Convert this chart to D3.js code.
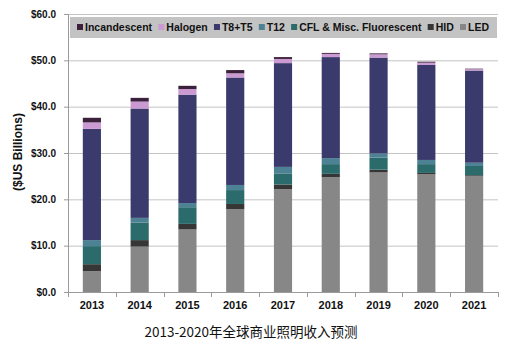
<!DOCTYPE html>
<html lang="zh">
<head>
<meta charset="UTF-8">
<title>chart</title>
<style>
  body { margin: 0; background: #fff; }
  .axis text { font-family: Arial, 'Liberation Sans', sans-serif; font-weight: bold; fill: #111; }
  .grid line { stroke: #c4c4c4; stroke-width: 1px; }
  .legendText { font-family: Arial, 'Liberation Sans', sans-serif; font-weight: bold; font-size: 10.5px; fill: #111; }
</style>
<script src="https://cdn.jsdelivr.net/npm/d3@7"></script>
</head>
<body>
<div class="container"></div>
<script>
  var years = ['2013','2014','2015','2016','2017','2018','2019','2020','2021'];
  // stacked from bottom to top
  var seriesNames = ['LED','HID','CFL & Misc. Fluorescent','T12','T8+T5','Halogen','Incandescent'];
  var led          = [4.5, 9.8, 13.5, 17.9, 22.2, 24.8, 25.8, 25.4, 25.0];
  var hid          = [1.5, 1.4, 1.2, 1.1, 1.0, 0.7, 0.6, 0.3, 0.2];
  var cfl          = [3.9, 3.8, 3.6, 3.0, 2.4, 2.1, 2.6, 1.9, 2.0];
  var t12          = [1.3, 1.0, 0.9, 1.1, 1.4, 1.3, 0.9, 0.9, 0.7];
  var t8t5         = [24.0, 23.6, 23.4, 23.2, 22.4, 21.8, 20.7, 20.5, 19.9];
  var halogen      = [1.4, 1.5, 1.2, 0.9, 0.9, 0.7, 0.7, 0.5, 0.3];
  var incandescent = [1.0, 0.8, 0.7, 0.7, 0.4, 0.2, 0.2, 0.2, 0.1];
  var yTicks = [0, 10, 20, 30, 40, 50, 60];
  var legendOrder = ['Incandescent','Halogen','T8+T5','T12','CFL & Misc. Fluorescent','HID','LED'];
  var caption = '2013-2020年全球商业照明收入预测';

  var colors = {
    'LED': '#878787',
    'HID': '#363636',
    'CFL & Misc. Fluorescent': '#2c6b6c',
    'T12': '#4d8294',
    'T8+T5': '#3b3a6c',
    'Halogen': '#cb9ad2',
    'Incandescent': '#3b213b'
  };

  var table = years.map(function(y, i) {
    return {
      year: y,
      'LED': led[i], 'HID': hid[i], 'CFL & Misc. Fluorescent': cfl[i], 'T12': t12[i],
      'T8+T5': t8t5[i], 'Halogen': halogen[i], 'Incandescent': incandescent[i]
    };
  });

  var svgWidth = 507, svgHeight = 351;
  var margin = {left: 68, right: 9, top: 14, bottom: 59};
  var width = svgWidth - margin.left - margin.right;
  var height = svgHeight - margin.top - margin.bottom;

  var svg = d3.select('.container').append('svg')
    .attr('width', svgWidth).attr('height', svgHeight);
  var g = svg.append('g').attr('transform', `translate(${margin.left},${margin.top})`);

  var x = d3.scaleBand().domain(years).range([0, width]).paddingInner(0.62).paddingOuter(0.31);
  var y = d3.scaleLinear().domain([0, 60]).range([height, 0]);

  // grid
  g.append('g').attr('class', 'grid')
    .selectAll('line').data(yTicks.slice(1)).enter().append('line')
    .attr('x1', 0).attr('x2', width)
    .attr('y1', d => y(d) + 0.5).attr('y2', d => y(d) + 0.5);

  var stack = d3.stack().keys(seriesNames)(table);
  g.append('g').selectAll('g').data(stack).enter().append('g')
    .attr('fill', d => colors[d.key])
    .selectAll('rect').data(d => d).enter().append('rect')
    .attr('x', d => x(d.data.year))
    .attr('width', x.bandwidth())
    .attr('y', d => y(d[1]))
    .attr('height', d => y(d[0]) - y(d[1]));

  // y axis
  var yAxis = g.append('g').attr('class', 'axis')
    .call(d3.axisLeft(y).tickValues(yTicks).tickSize(4).tickPadding(8).tickFormat(d => '$' + d3.format('.1f')(d)));
  yAxis.selectAll('path,line').attr('stroke', '#9a9a9a');
  yAxis.select('.domain').attr('d', `M-4,0.5H0.5V${height + 0.5}H-4`);
  yAxis.selectAll('text').style('font-size', '10px');

  // x axis with ticks between bars
  var xg = g.append('g').attr('class', 'axis').attr('transform', `translate(0,${height})`);
  xg.append('line').attr('x1', 0).attr('x2', width).attr('y1', 0.5).attr('y2', 0.5).attr('stroke', '#9a9a9a');
  var step = x.step();
  xg.selectAll('.tk').data(d3.range(years.length + 1)).enter().append('line')
    .attr('x1', i => Math.round(i * step) + 0.5).attr('x2', i => Math.round(i * step) + 0.5)
    .attr('y1', 0).attr('y2', 5).attr('stroke', '#9a9a9a');
  xg.selectAll('text').data(years).enter().append('text')
    .attr('x', d => x(d) + x.bandwidth() / 2)
    .attr('y', 17)
    .attr('text-anchor', 'middle')
    .style('font-size', '11px')
    .text(d => d);

  // y axis title
  svg.append('text')
    .attr('transform', `translate(22,152) rotate(-90)`)
    .attr('text-anchor', 'middle')
    .style('font-family', "Arial, 'Liberation Sans', sans-serif")
    .style('font-weight', 'bold').style('font-size', '12px').style('fill', '#111')
    .text('($US Billions)');

  // legend: items spread so the last one ends near the right of the box
  var lg = svg.append('g');
  lg.append('rect').attr('x', 70).attr('y', 17).attr('width', 427).attr('height', 21).attr('fill', '#c3c3c3');
  var items = legendOrder.map(function(k) {
    var sw = lg.append('rect').attr('y', 24).attr('width', 6).attr('height', 6).attr('fill', colors[k]);
    var t = lg.append('text').attr('class', 'legendText').attr('y', 31).text(k);
    return {sw: sw, t: t, w: t.node().getComputedTextLength()};
  });
  var textOff = 8, legStart = 77, legEnd = 489;
  var used = d3.sum(items, d => d.w + textOff);
  var gap = (legEnd - legStart - used) / (items.length - 1);
  var lx = legStart;
  items.forEach(function(d) {
    d.sw.attr('x', lx);
    d.t.attr('x', lx + textOff);
    lx += textOff + d.w + gap;
  });

  // caption
  svg.append('text')
    .attr('x', 251).attr('y', 337)
    .attr('text-anchor', 'middle')
    .style('font-family', "'Noto Sans CJK SC', sans-serif")
    .style('font-size', '13.5px').style('fill', '#111')
    .text(caption);
</script>
</body>
</html>
